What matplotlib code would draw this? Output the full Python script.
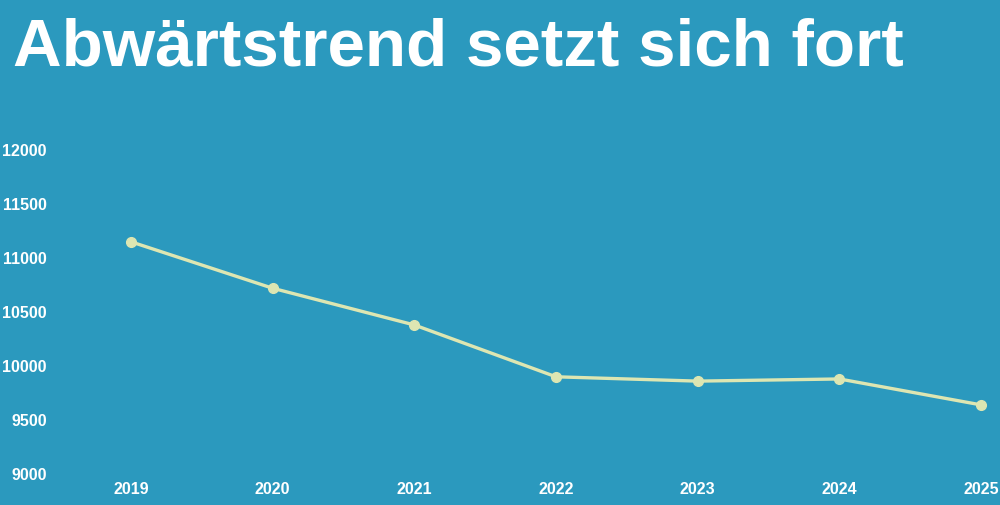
import matplotlib.pyplot as plt

# Werte
jahre = [2019, 2020, 2021, 2022, 2023, 2024, 2025]
werte = [11150, 10720, 10380, 9900, 9860, 9880, 9640]
y_ticks = [9000, 9500, 10000, 10500, 11000, 11500, 12000]
titel = 'Abwärtstrend setzt sich fort'

bg = '#2b99be'
linie = '#dde6b2'

plt.rcParams['font.family'] = ['Liberation Sans', 'DejaVu Sans']

fig = plt.figure(figsize=(10, 5.05), dpi=100, facecolor=bg)
ax = fig.add_axes([0.06, (505 - 474) / 505, 0.94, (474 - 150) / 505])
ax.set_facecolor(bg)

ax.plot(jahre, werte, color=linie, lw=2.4, marker='o', ms=7, clip_on=False, zorder=3)

ax.set_xlim(2018 + 0.499, 2025 + 0.134)
ax.set_ylim(9000, 12000)
ax.set_xticks(jahre)
ax.set_xticklabels([str(j) for j in jahre])
ax.set_yticks(y_ticks)
ax.set_yticklabels([str(v) for v in y_ticks])
ax.tick_params(length=0, colors='white', labelsize=11.5)
ax.tick_params(axis='x', pad=6)
ax.tick_params(axis='y', pad=9.5)
for lab in ax.get_xticklabels() + ax.get_yticklabels():
    lab.set_fontweight('bold')
for s in ax.spines.values():
    s.set_visible(False)

fig.text(0.013, 1 - 66 / 505, titel, color='white', fontsize=48.5, fontweight='bold',
         ha='left', va='baseline')

fig.savefig('out.png', facecolor=bg)
